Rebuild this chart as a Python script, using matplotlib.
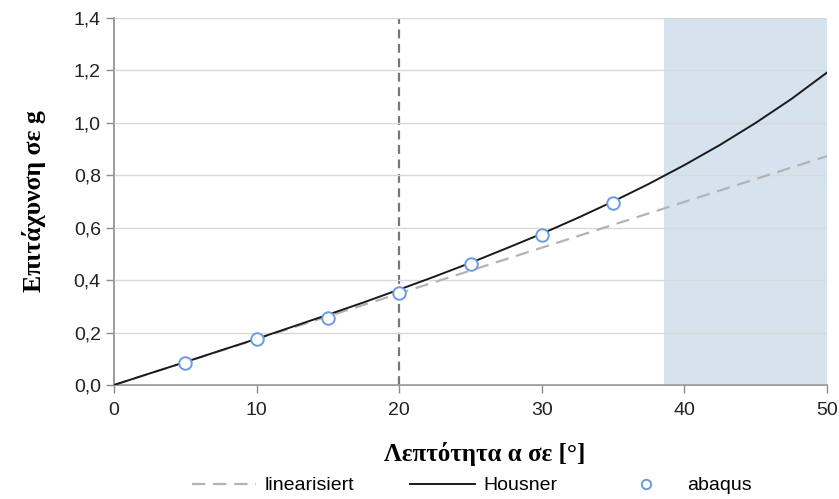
import matplotlib
matplotlib.use("Agg")
from matplotlib import pyplot as plt
from matplotlib.ticker import FuncFormatter

# Housner curve, every 2.5 degrees
housner_x = [0, 2.5, 5, 7.5, 10, 12.5, 15, 17.5, 20, 22.5, 25,
             27.5, 30, 32.5, 35, 37.5, 40, 42.5, 45, 47.5, 50]
housner_y = [0.0, 0.044, 0.0875, 0.132, 0.176, 0.222, 0.268, 0.315, 0.364, 0.414, 0.466,
             0.521, 0.577, 0.637, 0.700, 0.767, 0.839, 0.916, 1.0, 1.091, 1.192]

lin_x = [0, 50]
lin_y = [0.0, 0.873]

abaqus_x = [5, 10, 15, 20, 25, 30, 35]
abaqus_y = [0.084, 0.174, 0.256, 0.351, 0.462, 0.572, 0.694]

shade_from = 38.6
vline_x = 20

fig = plt.figure(figsize=(8.39, 4.99), dpi=100)
ax = fig.add_axes([0.1359, 0.2285, 0.8498, 0.7354])

ax.axvspan(shade_from, 50, color="#d6e2ee", zorder=0, lw=0)
ax.grid(axis="y", color="#d9d9d9", lw=1, zorder=1)
ax.set_axisbelow(False)

ax.axvline(vline_x, color="#777777", ls=(0, (4, 2.5)), lw=1.6, zorder=2)
ax.plot(lin_x, lin_y, color="#b3b3b3", ls=(0, (6, 3.5)), lw=1.6, label="linearisiert", zorder=3)
ax.plot(housner_x, housner_y, color="#1a1a1a", lw=1.4, label="Housner", zorder=4)
ax.plot(abaqus_x, abaqus_y, ls="none", marker="o", ms=9, mfc="white", mec="#6a9be0",
        mew=1.4, label="abaqus", zorder=5)

ax.set_xlim(0, 50)
ax.set_ylim(0, 1.4)
ax.set_xticks(range(0, 51, 10))
ax.set_yticks([0, 0.2, 0.4, 0.6, 0.8, 1.0, 1.2, 1.4])
ax.yaxis.set_major_formatter(FuncFormatter(lambda v, p: f"{v:.1f}".replace(".", ",")))

for s in ["top", "right"]:
    ax.spines[s].set_visible(False)
for s in ["left", "bottom"]:
    ax.spines[s].set_color("#8c8c8c")
    ax.spines[s].set_linewidth(1.2)
ax.tick_params(colors="#8c8c8c", length=6, width=1, labelsize=14, labelcolor="#222222")
ax.tick_params(axis="x", pad=6)
for lab in ax.get_xticklabels() + ax.get_yticklabels():
    lab.set_family("Liberation Sans")

ax.set_xlabel("Λεπτότητα α σε [°]", family="Liberation Serif", weight="bold",
              fontsize=18, labelpad=14)
ax.xaxis.set_label_coords(0.52, -0.155)
ax.set_ylabel("Επιτάχυνση σε g", family="Liberation Serif", weight="bold",
              fontsize=18.5, labelpad=20)

fig.legend(loc="lower center", bbox_to_anchor=(0.562, -0.026), ncol=3, frameon=False,
           prop={"family": "Liberation Sans", "size": 14}, columnspacing=2.9,
           handlelength=3.3, handletextpad=0.45, markerscale=0.75)

fig.savefig("out.png", dpi=100)
